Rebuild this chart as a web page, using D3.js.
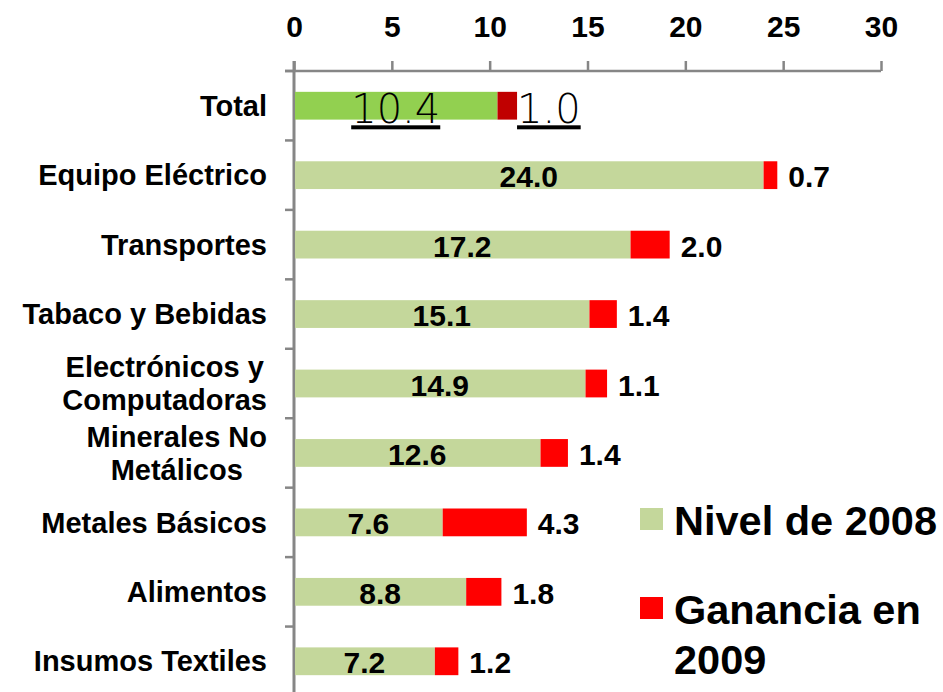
<!DOCTYPE html>
<html>
<head>
<meta charset="utf-8">
<script src="https://cdn.jsdelivr.net/npm/d3@7"></script>
<style>
body { margin: 0; background: #fff; }
text { font-family: "Liberation Sans", Arial, sans-serif; }
</style>
</head>
<body>
<div id="content"></div>
<script>
var categories = ["Total", "Equipo Eléctrico", "Transportes", "Tabaco y Bebidas",
    "Electrónicos y|Computadoras", "Minerales No|Metálicos", "Metales Básicos",
    "Alimentos", "Insumos Textiles"];
var nivel2008 = [10.4, 24.0, 17.2, 15.1, 14.9, 12.6, 7.6, 8.8, 7.2];
var ganancia2009 = [1.0, 0.7, 2.0, 1.4, 1.1, 1.4, 4.3, 1.8, 1.2];
var xTicks = [0, 5, 10, 15, 20, 25, 30];
var seriesNames = ["Nivel de 2008", "Ganancia en|2009"];

var width = 943, height = 692;
var plotLeft = 294, plotRight = 881, plotTop = 71, plotBottom = 696;

var svg = d3.select("div#content").append("svg")
    .attr("width", width)
    .attr("height", height);

var x = d3.scaleLinear().domain([0, 30]).range([plotLeft, plotRight]);
var y = d3.scaleBand().domain(categories).range([plotTop, plotBottom])
    .paddingInner(0.6).paddingOuter(0.3);

// top axis
var xAxis = svg.append("g")
    .attr("transform", "translate(0," + plotTop + ")")
    .call(d3.axisTop(x).tickValues(xTicks).tickSize(10).tickSizeOuter(0).tickPadding(24));
xAxis.select(".domain").attr("stroke", "#868686").attr("stroke-width", 2.5)
    .attr("d", "M" + (plotLeft - 9) + ",0H" + plotRight);
xAxis.selectAll(".tick line").attr("stroke", "#868686").attr("stroke-width", 2.5);
xAxis.selectAll(".tick text")
    .attr("fill", "#000")
    .style("font-size", "30px")
    .style("font-weight", "bold");

// left axis, ticks on category boundaries
var step = y.step();
var bounds = d3.range(categories.length + 1).map(function(i) { return plotTop + i * step; });
svg.append("line")
    .attr("x1", plotLeft).attr("x2", plotLeft)
    .attr("y1", plotTop - 10).attr("y2", plotBottom)
    .attr("stroke", "#868686").attr("stroke-width", 3);
svg.selectAll(".ytick")
    .data(bounds)
    .enter().append("line")
    .attr("class", "ytick")
    .attr("x1", plotLeft - 9).attr("x2", plotLeft)
    .attr("y1", function(d) { return d; })
    .attr("y2", function(d) { return d; })
    .attr("stroke", "#868686").attr("stroke-width", 2.5);

// category labels
var catLabels = svg.selectAll(".cat")
    .data(categories)
    .enter().append("text")
    .attr("class", "cat")
    .style("font-size", "29px")
    .style("font-weight", "bold")
    .attr("fill", "#000");
catLabels.each(function(d) {
    var lines = d.split("|");
    var t = d3.select(this);
    var cy = y(d) + y.bandwidth() / 2;
    if (lines.length === 1) {
        t.attr("x", 267).attr("y", cy).attr("dy", "0.35em")
            .attr("text-anchor", "end").text(d);
    } else {
        t.attr("text-anchor", "middle");
        lines.forEach(function(l, i) {
            t.append("tspan").attr("y", cy + (i === 0 ? -16.5 : 16.5)).attr("dy", "0.35em").text(l);
        });
        var w = d3.max(t.selectAll("tspan").nodes(), function(n) { return n.getComputedTextLength(); });
        t.selectAll("tspan").attr("x", 267 - w / 2);
    }
});

var rows = categories.map(function(c, i) {
    return { cat: c, a: nivel2008[i], b: ganancia2009[i], total: i === 0 };
});

// bars
svg.selectAll(".bar2008")
    .data(rows)
    .enter().append("rect")
    .attr("class", "bar2008")
    .attr("x", x(0) + 1)
    .attr("y", function(d) { return y(d.cat); })
    .attr("width", function(d) { return x(d.a) - x(0) - 1; })
    .attr("height", y.bandwidth())
    .attr("fill", function(d) { return d.total ? "#92D050" : "#C4D79B"; });

svg.selectAll(".bar2009")
    .data(rows)
    .enter().append("rect")
    .attr("class", "bar2009")
    .attr("x", function(d) { return x(d.a); })
    .attr("y", function(d) { return y(d.cat); })
    .attr("width", function(d) { return x(d.a + d.b) - x(d.a); })
    .attr("height", y.bandwidth())
    .attr("fill", function(d) { return d.total ? "#C00000" : "#FF0000"; });

// value labels
function styleLabel(sel) {
    sel.style("font-size", function(d) { return d.total ? "40px" : "30px"; })
        .style("font-weight", function(d) { return d.total ? "200" : "bold"; })
        .style("font-family", function(d) { return d.total ? "'DejaVu Sans', sans-serif" : null; })
        .style("text-decoration", function(d) { return d.total ? "underline" : null; })
        .attr("dy", function(d) { return d.total ? "0.44em" : "0.4em"; });
}

svg.selectAll(".lab2008")
    .data(rows)
    .enter().append("text")
    .attr("class", "lab2008")
    .attr("x", function(d) { return (x(0) + x(d.a)) / 2; })
    .attr("y", function(d) { return y(d.cat) + y.bandwidth() / 2; })
    .attr("text-anchor", "middle")
    .call(styleLabel)
    .text(function(d) { return d.a.toFixed(1); });

svg.selectAll(".lab2009")
    .data(rows)
    .enter().append("text")
    .attr("class", "lab2009")
    .attr("x", function(d) { return x(d.a + d.b) + (d.total ? 0 : 11); })
    .attr("y", function(d) { return y(d.cat) + y.bandwidth() / 2; })
    .call(styleLabel)
    .text(function(d) { return d.b.toFixed(1); });

// legend
var legend = svg.selectAll(".legend")
    .data(seriesNames)
    .enter().append("g")
    .attr("class", "legend")
    .attr("transform", function(d, i) { return "translate(640," + (508 + i * 89) + ")"; });
legend.append("rect")
    .attr("width", 23).attr("height", 22)
    .attr("fill", function(d, i) { return i === 0 ? "#C4D79B" : "#FF0000"; });
legend.append("text")
    .attr("x", 34)
    .attr("y", 12)
    .style("font-size", "41.5px")
    .style("font-weight", "bold")
    .selectAll("tspan")
    .data(function(d) { return d.split("|"); })
    .enter().append("tspan")
    .attr("x", 34)
    .attr("dy", function(d, i) { return i === 0 ? "0.36em" : "1.2em"; })
    .text(function(d) { return d; });
</script>
</body>
</html>
